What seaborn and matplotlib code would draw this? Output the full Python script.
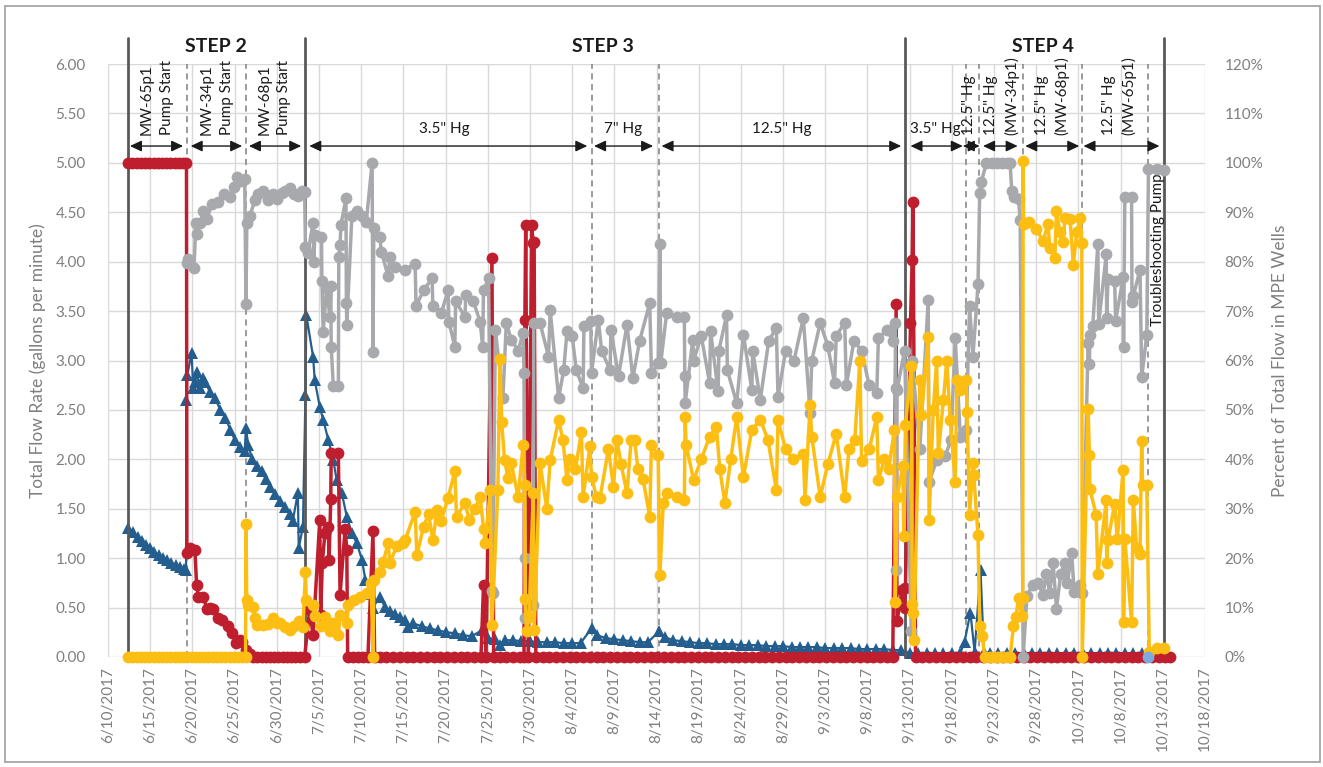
import matplotlib
matplotlib.use("Agg")
import numpy as np
import pandas as pd
import matplotlib.pyplot as plt
import matplotlib.dates as mdates
import seaborn as sns
from matplotlib.patches import Rectangle

# ---------------- DATA (days after 6/10/2017) ----------------
BASE = pd.Timestamp("2017-06-10")

# Total flow rate (gpm) - left axis
blue_days = [2.4, 3.0, 3.5, 4.0, 4.5, 5.0, 5.5, 6.0, 6.5, 7.0, 7.5, 8.0, 8.5, 9.0, 9.25,
             9.3, 9.4, 9.9, 10.1, 10.3, 10.5, 10.9, 11.2, 11.5, 12.1, 12.7, 13.3, 13.9, 14.5, 15.0,
             15.6, 16.2, 16.35, 16.6, 17.1, 17.7, 18.2, 18.7, 19.2, 19.8, 20.4, 21.0, 21.6, 21.9,
             22.5, 22.6, 23.1, 23.4, 23.5, 24.3, 24.5, 25.1, 25.5, 26.1, 26.7, 27.1, 27.7, 28.3,
             28.9, 29.5, 30.1, 30.5, 31.2, 31.4, 32.2, 32.8, 33.4, 34.0, 34.6, 35.2, 35.6, 36.2,
             37.2, 38.1, 39.1, 40.1, 41.1, 42.1, 43.1, 44.3, 45.0, 45.9, 46.4, 47.0, 48.0, 49.0,
             50.0, 51.0, 52.0, 53.0, 54.0, 55.0, 56.0, 57.3, 58.0, 59.0, 60.0, 61.0, 62.0, 63.0,
             64.0, 65.3, 66.0, 67.0, 68.0, 69.0, 70.0, 71.0, 72.0, 73.0, 74.0, 75.0, 76.0, 77.0,
             78.0, 79.0, 80.0, 81.0, 82.0, 83.0, 84.0, 85.0, 86.0, 87.0, 88.0, 89.0, 90.0, 91.0,
             92.0, 93.0, 94.0, 95.0, 96.0, 97.0, 98.0, 99.0, 100.0, 101.0, 101.5, 102.2, 102.7,
             103.4, 103.8, 104.5, 105.5, 106.5, 107.5, 108.5, 109.5, 110.5, 111.5, 112.5, 113.5,
             114.5, 115.5, 116.5, 117.5, 118.5, 119.5, 120.5, 121.5, 122.5, 123.5, 124.5, 125.2]
blue_vals = [1.31, 1.26, 1.21, 1.17, 1.13, 1.10, 1.06, 1.03, 1.00, 0.98, 0.95, 0.93, 0.91, 0.89, 0.88,
             2.60, 2.85, 3.08, 2.72, 2.78, 2.88, 2.72, 2.82, 2.78, 2.68, 2.62, 2.50, 2.42, 2.30, 2.20,
             2.12, 2.08, 2.32, 2.15, 2.00, 1.93, 1.88, 1.80, 1.72, 1.65, 1.58, 1.52, 1.45, 1.38,
             1.66, 1.10, 1.32, 2.65, 3.46, 3.04, 2.80, 2.53, 2.40, 2.20, 1.99, 1.79, 1.66, 1.42,
             1.25, 1.15, 0.98, 0.78, 0.64, 0.50, 0.61, 0.51, 0.47, 0.44, 0.40, 0.37, 0.30, 0.34,
             0.31, 0.29, 0.27, 0.25, 0.24, 0.22, 0.21, 0.27, 0.19, 0.18, 0.12, 0.17, 0.17, 0.16,
             0.16, 0.15, 0.15, 0.15, 0.14, 0.14, 0.14, 0.29, 0.22, 0.19, 0.18, 0.17, 0.16, 0.15,
             0.15, 0.26, 0.20, 0.17, 0.16, 0.15, 0.14, 0.14, 0.13, 0.13, 0.13, 0.12, 0.12, 0.12,
             0.11, 0.11, 0.11, 0.10, 0.10, 0.10, 0.10, 0.09, 0.09, 0.09, 0.09, 0.08, 0.08, 0.08,
             0.08, 0.07, 0.07, 0.04, 0.04, 0.04, 0.04, 0.04, 0.04, 0.04, 0.15, 0.45, 0.05,
             0.88, 0.05, 0.04, 0.04, 0.04, 0.04, 0.04, 0.04, 0.04, 0.04, 0.04, 0.04,
             0.04, 0.04, 0.04, 0.04, 0.04, 0.04, 0.04, 0.04, 0.04, 0.04, 0.04, 0.04]

# MW-65p1 share (%) - right axis
red_days = [2.4, 2.9, 3.4, 3.9, 4.4, 4.9, 5.4, 5.9, 6.4, 6.9, 7.4, 7.9, 8.4, 8.9, 9.3,
            9.35, 9.7, 10.3, 10.5, 10.7, 11.3, 11.7, 12.1, 12.4, 13.0, 13.5, 14.2, 14.7, 15.2,
            15.6, 15.9, 16.4, 16.8, 17.2, 17.7, 18.2, 18.7, 19.2, 19.7, 20.2, 20.7, 21.2, 21.7,
            22.2, 22.7, 23.3,
            23.9, 24.3, 25.1, 25.2, 25.4, 25.7, 26.1, 26.2, 26.4, 26.45, 27.3, 27.5, 28.1, 28.3,
            28.4, 29.0, 29.6, 30.2, 30.8, 31.4, 31.6, 32.2, 33.0, 33.8, 34.6, 35.4, 36.2, 37.0,
            37.8, 38.6, 39.4, 40.2, 41.0, 41.8, 42.6, 43.4, 44.2, 44.5, 44.8, 45.5, 45.7, 46.4,
            47.2, 48.0, 48.8, 49.3, 49.4, 49.5, 49.8, 50.2, 50.4, 50.5, 50.7,
            51.5, 52.3, 53.1, 53.9, 54.7, 55.5, 56.3, 57.1, 57.9, 58.7, 59.5, 60.3, 61.1, 61.9,
            62.7, 63.5, 64.3, 65.1, 65.9, 66.7, 67.5, 68.3, 69.1, 69.9, 70.7, 71.5, 72.3, 73.1,
            73.9, 74.7, 75.5, 76.3, 77.1, 77.9, 78.7, 79.5, 80.3, 81.1, 81.9, 82.7, 83.5, 84.3,
            85.1, 85.9, 86.7, 87.5, 88.3, 89.1, 89.9, 90.7, 91.5, 92.3, 93.0,
            93.4, 93.5, 94.1, 94.4, 94.5, 95.1, 95.3, 95.4, 95.7,
            96.5, 97.3, 98.1, 98.9, 99.7, 100.5, 101.3, 102.1, 102.9, 103.7, 104.5, 105.3, 106.1,
            106.9, 107.7, 108.5, 109.3, 110.1, 110.9, 111.7, 112.5, 113.3, 114.1, 114.9, 115.7,
            116.5, 117.3, 118.1, 118.9, 119.7, 120.5, 121.3, 122.1, 122.9, 123.7, 124.5, 125.3, 125.8]
red_vals = [100, 100, 100, 100, 100, 100, 100, 100, 100, 100, 100, 100, 100, 100, 100,
            21.0, 22.0, 21.6, 14.6, 12.2, 12.2, 9.8, 10.0, 9.8, 7.8, 7.4, 6.2, 4.8, 2.8,
            3.4, 3.0, 1.4, 0.6, 0, 0, 0, 0, 0, 0, 0, 0, 0, 0,
            0, 0, 0,
            9.6, 4.4, 27.8, 8.6, 19.0, 25.0, 26.4, 19.6, 32.0, 41.2, 41.2, 12.6, 26.0, 21.6,
            0, 0, 0, 0, 0, 25.4, 0, 0, 0, 0, 0, 0, 0, 0,
            0, 0, 0, 0, 0, 0, 0, 0, 0, 14.6, 0, 80.7, 0, 0,
            0, 0, 0, 0, 68.2, 87.4, 0, 87.4, 83.7, 84.0, 0,
            0, 0, 0, 0, 0, 0, 0, 0, 0, 0, 0, 0, 0, 0,
            0, 0, 0, 0, 0, 0, 0, 0, 0, 0, 0, 0, 0, 0,
            0, 0, 0, 0, 0, 0, 0, 0, 0, 0, 0, 0, 0, 0,
            0, 0, 0, 0, 0, 0, 0, 0, 0, 0, 0,
            71.5, 7.2, 13.6, 10.0, 14.0, 67.5, 80.4, 92.0, 0,
            0, 0, 0, 0, 0, 0, 0, 0, 0, 0, 0, 0, 0,
            0, 0, 0, 0, 0, 0, 0, 0, 0, 0, 0, 0,
            0, 0, 0, 0, 0, 0, 0, 0, 0, 0, 0, 0, 0]

# MW-34p1 share (%) - right axis
gray_days = [9.4, 9.5, 10.2, 10.4, 10.5, 10.9, 11.3, 11.7, 12.3, 13.0, 13.7, 14.5, 14.9, 15.3,
             15.8, 16.2, 16.35, 16.45, 16.8, 17.4, 17.8, 18.4, 19.0, 19.6, 20.0, 20.6, 21.0,
             21.6, 22.0, 22.5, 23.0, 23.3, 23.4, 23.7, 24.3, 24.4, 24.5, 25.3, 25.35, 25.5,
             25.9, 26.3, 26.4, 26.45, 26.7, 27.3, 27.35, 27.5, 27.6, 28.2, 28.25, 28.3, 28.9,
             29.5, 30.1, 30.6, 31.3, 31.4, 31.5, 32.2, 32.4, 33.2, 33.4, 34.0, 35.2, 36.4,
             36.5, 37.4, 38.4, 38.5, 39.5, 40.3, 40.4, 41.1, 41.2, 42.3, 42.4, 43.3, 44.1,
             44.4, 44.5, 45.1, 45.5, 45.6, 45.9, 46.8, 47.2, 47.8, 48.6, 49.2, 49.3, 49.4,
             49.45, 50.4, 50.45, 51.2, 52.2, 52.4, 53.4, 54.0, 54.4, 55.0, 55.5, 56.3, 56.4,
             57.2, 57.3, 58.1, 58.5, 59.5, 59.6, 60.5, 61.5, 62.2, 63.0, 64.2, 64.4, 65.2,
             65.4, 65.5, 66.2, 67.4, 68.3, 68.35, 68.4, 69.3, 69.4, 70.3, 71.3, 71.4, 72.3,
             72.4, 73.3, 73.4, 74.5, 75.3, 76.3, 76.4, 77.3, 78.3, 79.2, 79.4, 80.3, 81.3,
             82.4, 83.2, 83.4, 84.4, 85.3, 86.1, 86.3, 87.3, 87.5, 88.4, 89.3, 90.2, 91.1,
             91.3, 92.3, 93.0, 93.3, 93.35, 93.4, 93.5, 94.4, 95.2, 95.3, 96.2, 97.2, 97.3,
             98.2, 99.2, 99.9, 100.4, 101.0, 101.7, 102.1, 102.5, 103.1, 103.3, 103.5, 104.1,
             104.7, 105.3, 105.9, 106.5, 106.9, 107.1, 107.4, 107.9, 108.1, 108.45, 108.9,
             109.6, 110.2, 110.8, 111.2, 111.6, 112.0, 112.4, 112.9, 113.4, 113.7, 114.2,
             114.5, 115.2, 115.45, 116.15, 116.3, 116.35, 116.7, 117.3, 117.4, 118.3, 118.35,
             118.5, 119.3, 119.4, 120.3, 120.35, 120.5, 121.3, 121.35, 121.5, 122.3, 122.5,
             123.1, 123.3, 124.3, 125.2]
gray_vals = [79.8, 80.6, 78.8, 87.8, 85.6, 87.8, 90.2, 88.6, 91.6, 92.0, 93.6, 93.0, 95.2, 97.2,
             96.4, 96.8, 71.4, 87.8, 89.2, 92.4, 93.6, 94.2, 92.4, 93.6, 92.6, 93.8, 94.2,
             95.0, 93.6, 93.2, 94.2, 94.0, 83.0, 81.8, 87.8, 80.0, 85.4, 85.0, 76.0, 65.8,
             74.6, 68.8, 75.0, 62.8, 54.8, 54.8, 81.0, 83.4, 87.4, 92.8, 71.6, 67.2, 89.2,
             90.2, 89.2, 88.0, 100.0, 61.8, 86.8, 85.0, 82.0, 77.0, 81.0, 79.0, 78.4, 79.6,
             71.0, 74.2, 76.6, 71.0, 69.6, 74.2, 67.8, 62.8, 72.0, 68.8, 73.2, 72.0, 67.8,
             62.8, 74.2, 76.6, 13.4, 13.0, 66.2, 52.4, 67.6, 64.2, 62.0, 65.6, 57.4, 20.0,
             7.8, 10.6, 67.6, 67.6, 60.8, 70.2, 52.4, 58.0, 66.0, 65.0, 58.0, 54.4, 67.0,
             68.0, 57.4, 68.2, 62.0, 58.0, 66.2, 56.8, 67.2, 56.4, 64.0, 71.6, 57.4, 59.4,
             83.6, 59.4, 69.6, 68.8, 68.8, 56.8, 51.4, 64.2, 60.0, 65.0, 55.4, 66.0, 53.8,
             62.0, 69.2, 58.0, 51.4, 65.2, 54.0, 62.0, 52.0, 64.0, 66.6, 52.6, 62.0, 60.0,
             68.6, 49.4, 60.0, 67.6, 63.0, 55.4, 65.0, 67.6, 55.0, 64.0, 62.0, 55.0, 53.4,
             64.6, 66.2, 64.0, 67.6, 54.4, 17.6, 54.0, 62.0, 5.2, 60.0, 42.0, 72.2, 35.4,
             39.8, 40.6, 44.0, 64.6, 44.6, 46.0, 71.0, 60.8, 75.4, 93.8, 96.2, 100.0,
             100.0, 100.0, 100.0, 100.0, 100.0, 94.4, 93.0, 92.6, 88.4, 0.0, 12.4,
             14.6, 15.0, 12.6, 16.8, 13.0, 19.0, 9.8, 16.8, 19.0, 15.0, 21.0,
             13.2, 14.6, 13.0, 63.6, 59.2, 65.2, 67.0, 83.6, 67.4, 81.6, 68.6,
             76.4, 76.0, 68.0, 76.8, 62.8, 93.0, 93.0, 71.8, 73.0, 78.4, 56.6,
             65.2, 98.8, 98.8, 98.6]

# MW-68p1 share (%) - right axis
yellow_days = [2.4, 2.9, 3.4, 3.9, 4.4, 4.9, 5.4, 5.9, 6.4, 6.9, 7.4, 7.9, 8.4, 8.9, 9.4, 9.9,
               10.4, 10.9, 11.4, 11.9, 12.4, 12.9, 13.4, 13.9, 14.4, 14.9, 15.4, 15.9, 16.3,
               16.35, 16.45, 16.6, 17.2, 17.4, 17.7, 18.4, 19.0, 19.6, 20.0, 20.4, 21.0, 21.6,
               22.0, 22.6, 23.1, 23.4, 23.5, 24.3, 24.5, 25.3, 25.7, 26.3, 26.7, 27.3, 27.5,
               28.3, 28.5, 29.1, 29.9, 30.7, 31.2, 31.4, 31.5, 32.2, 32.6, 33.2, 33.4, 34.2,
               35.0, 35.2, 36.4, 36.6, 37.4, 38.0, 38.5, 39.0, 39.5, 40.3, 41.1, 41.3, 42.3,
               42.8, 43.5, 44.1, 44.5, 44.7, 45.3, 45.5, 46.2, 46.45, 46.65, 47.0, 47.4, 47.8,
               48.6, 49.2, 49.4, 49.45, 49.6, 49.9, 50.4, 50.5, 51.2, 52.0, 52.4, 53.4, 53.9,
               54.4, 54.7, 55.4, 56.1, 56.3, 57.1, 57.3, 57.9, 58.3, 59.3, 59.9, 60.3, 60.8,
               61.5, 62.0, 62.4, 62.8, 63.4, 64.2, 64.4, 65.2, 65.4, 65.8, 66.2, 67.4, 68.3,
               68.4, 68.5, 69.4, 70.3, 71.3, 72.1, 72.5, 73.1, 73.8, 74.5, 75.3, 76.3, 77.3,
               78.2, 79.2, 79.4, 80.3, 81.2, 82.4, 82.6, 83.2, 83.4, 84.4, 85.3, 86.3, 87.3,
               87.8, 88.5, 89.1, 89.3, 90.2, 91.1, 91.3, 92.0, 92.5, 93.2, 93.3, 93.5, 94.2,
               94.3, 94.5, 95.2, 95.3, 95.4, 95.5, 96.2, 96.4, 97.2, 97.3, 97.8, 98.2, 98.4,
               99.0, 99.4, 99.8, 100.4, 100.6, 101.0, 101.7, 101.8, 102.1, 102.5, 102.6, 103.1,
               103.3, 103.6, 103.9, 104.5, 105.0, 105.5, 106.0, 106.5, 106.9, 107.3, 107.6,
               107.9, 108.3, 108.4, 108.45, 108.5, 109.2, 110.0, 110.8, 111.4, 111.6, 112.2,
               112.4, 112.8, 113.2, 113.4, 114.0, 114.4, 114.8, 115.2, 115.4, 115.45, 116.15,
               116.3, 116.35, 117.1, 117.3, 118.3, 118.35, 118.5, 119.3, 119.6, 120.3, 120.35,
               120.5, 121.3, 121.5, 121.9, 122.3, 122.5, 122.6, 123.1, 123.4, 124.3, 125.2]
yellow_vals = [0, 0, 0, 0, 0, 0, 0, 0, 0, 0, 0, 0, 0, 0, 0, 0,
               0, 0, 0, 0, 0, 0, 0, 0, 0, 0, 0, 0, 0,
               27.0, 11.5, 10.6, 10.2, 7.8, 6.4, 6.4, 6.6, 7.8, 6.8, 6.8, 6.0, 5.4,
               6.2, 7.2, 6.0, 17.2, 11.6, 10.6, 8.2, 6.2, 8.0, 5.2, 6.8, 4.4, 8.6,
               6.8, 10.6, 11.6, 12.2, 13.0, 15.0, 0, 15.5, 17.2, 19.2, 23.0, 19.0, 22.4,
               23.0, 23.6, 29.4, 20.6, 26.4, 29.0, 23.6, 29.8, 27.6, 32.2, 37.6, 28.4, 31.2,
               27.8, 30.0, 32.4, 26.0, 23.0, 33.8, 6.4, 33.8, 60.4, 47.6, 39.8, 36.2, 39.2,
               32.4, 43.0, 34.8, 11.8, 5.2, 8.0, 33.2, 5.4, 39.2, 30.0, 39.8, 48.0, 44.0,
               35.8, 40.0, 38.0, 45.6, 32.4, 42.6, 36.4, 32.4, 32.2, 42.0, 34.4, 44.0, 39.0,
               33.2, 44.0, 44.0, 38.0, 36.0, 28.4, 43.0, 40.8, 16.6, 31.2, 33.2, 32.4, 31.8,
               48.6, 43.0, 35.8, 40.0, 44.6, 46.6, 38.0, 31.2, 40.0, 48.6, 36.4, 46.0, 48.0,
               44.0, 33.8, 48.0, 42.0, 40.0, 41.0, 31.8, 51.0, 44.6, 32.4, 39.0, 45.2, 32.4,
               42.0, 44.0, 60.0, 39.6, 42.0, 48.6, 35.8, 40.0, 38.0, 46.0, 11.2, 32.4, 38.6,
               24.4, 47.0, 58.8, 10.8, 9.0, 3.4, 56.0, 49.0, 64.8, 27.8, 50.0, 60.0, 41.2,
               52.0, 60.0, 48.0, 35.4, 56.0, 54.0, 56.0, 49.6, 28.8, 39.2, 36.8, 24.6,
               6.2, 4.2, 0, 0, 0, 0, 0, 0, 0, 6.2, 8.0,
               12.0, 8.2, 12.0, 100.4, 87.7, 88.0, 86.6, 84.2, 87.6, 82.8, 80.8,
               90.2, 86.0, 84.0, 88.8, 88.6, 79.4, 86.0, 88.8, 83.8, 0, 50.2,
               40.8, 34.0, 28.8, 16.8, 31.8, 19.0, 23.6, 31.0, 23.8, 37.8, 7.0,
               23.8, 7.0, 31.8, 22.0, 20.8, 43.8, 34.8, 34.8, 1.0, 1.8, 1.8]

# extra single point (light blue)
lblue_days = [123.3]
lblue_vals = [0.0]

# Annotation content
step_labels = ["STEP 2", "STEP 3", "STEP 4"]
step_label_days = [12.8, 58.6, 110.8]
solid_line_days = [2.33, 23.4, 94.5, 125.2]
dashed_line_days = [9.36, 16.35, 57.3, 65.3, 101.7, 103.2, 108.4, 115.4, 123.3]
arrow_spans = [(2.6, 8.9), (9.8, 15.9), (16.7, 22.9), (23.85, 56.8), (57.6, 64.6),
               (65.6, 94.0), (95.1, 101.3), (101.3, 103.3), (103.7, 107.8),
               (108.7, 115.1), (115.6, 124.6)]
horiz_labels = ['3.5" Hg', '7" Hg', '12.5" Hg', '3.5" Hg']
horiz_label_days = [39.9, 61.0, 79.8, 98.0]
vert_labels = ["MW-65p1", "Pump Start", "MW-34p1", "Pump Start", "MW-68p1", "Pump Start",
               '12.5" Hg', '12.5" Hg', "(MW-34p1)", '12.5" Hg', "(MW-68p1)",
               '12.5" Hg', "(MW-65p1)"]
vert_label_days = [4.58, 6.95, 11.69, 14.06, 18.60, 20.85,
                   102.0, 104.6, 107.07, 110.66, 113.0, 118.6, 120.97]

# ---------------- STYLE ----------------
sns.set_style("white")
plt.rcParams["font.family"] = ["Lato", "DejaVu Sans"]

GRAY_TXT = "#7F7F7F"
C_BLUE = "#245E8F"
C_RED = "#BE1E2D"
C_GRAY = "#A7A9AC"
C_YEL = "#FDBE14"
C_LBLUE = "#7DAADF"

fig = plt.figure(figsize=(13.23, 7.67), dpi=100)
ax = fig.add_axes([108 / 1323, 1 - 657 / 767, (1205 - 108) / 1323, (657 - 64) / 767])
ax2 = ax.twinx()


def to_dates(days):
    return BASE + pd.to_timedelta(np.asarray(days, dtype=float), unit="D")


def dn(d):
    return mdates.date2num(BASE + pd.Timedelta(days=d))


def draw(axis, days, vals, color, marker, ms, lw, z):
    df = pd.DataFrame({"date": to_dates(days), "v": vals})
    sns.lineplot(data=df, x="date", y="v", ax=axis, color=color, marker=marker,
                 markersize=ms, linewidth=lw, markeredgewidth=0, estimator=None,
                 sort=False, legend=False)
    ln = axis.lines[-1]
    ln.set_clip_on(False)
    ln.set_zorder(z)
    ln.set_markeredgecolor(color)


draw(ax, blue_days, blue_vals, C_BLUE, "^", 8.5, 1.6, 3)
draw(ax2, red_days, red_vals, C_RED, "o", 8.5, 2.5, 3)
draw(ax2, gray_days, gray_vals, C_GRAY, "o", 8.5, 2.5, 4)
draw(ax2, yellow_days, yellow_vals, C_YEL, "o", 8.5, 2.5, 5)
draw(ax2, lblue_days, lblue_vals, C_LBLUE, "o", 8.5, 2.5, 6)

# axes limits & ticks
x0 = BASE
x1 = BASE + pd.Timedelta(days=130)
ax.set_xlim(x0, x1)
ax.set_ylim(0, 6)
ax2.set_ylim(0, 120)
xt = [BASE + pd.Timedelta(days=5 * k) for k in range(27)]
ax.set_xticks(xt)
ax.set_xticklabels([f"{t.month}/{t.day}/{t.year}" for t in xt], rotation=90,
                   color=GRAY_TXT, fontsize=11)
ax.set_yticks(np.arange(0, 6.01, 0.5))
ax.set_yticklabels([f"{v:.2f}" for v in np.arange(0, 6.01, 0.5)], color=GRAY_TXT, fontsize=11)
ax2.set_yticks(np.arange(0, 121, 10))
ax2.set_yticklabels([f"{v:d}%" for v in range(0, 121, 10)], color=GRAY_TXT, fontsize=11)
ax.tick_params(axis="both", length=0)
ax.tick_params(axis="y", pad=16)
ax.tick_params(axis="x", pad=7)
ax2.tick_params(axis="y", length=0, pad=14)

ax.grid(True, color="#D9D9D9", linewidth=1.0)
ax.set_axisbelow(True)
ax2.grid(False)
for a in (ax, ax2):
    for s in a.spines.values():
        s.set_visible(False)

ax.set_xlabel("")
ax.set_ylabel("Total Flow Rate (gallons per minute)", color=GRAY_TXT, fontsize=12.5)
ax.yaxis.set_label_coords(-0.0565, 0.5)
ax2.set_ylabel("Percent of Total Flow in MPE Wells", color=GRAY_TXT, fontsize=12.5)
ax2.yaxis.set_label_coords(1.061, 0.5)

# vertical separator lines
for d in solid_line_days:
    ax.axvline(dn(d), ymin=0, ymax=1.044, color="#595959", lw=2.0, clip_on=False, zorder=7)
for d in dashed_line_days:
    ax.axvline(dn(d), ymin=0, ymax=1.0, color="#7F7F7F", lw=1.1, ls=(0, (4, 3)),
               clip_on=False, zorder=2)

TXT = "#1A1A1A"
trans = ax.get_xaxis_transform()
for lab, d in zip(step_labels, step_label_days):
    ax.text(dn(d), 1.029, lab, transform=trans, ha="center", va="center",
            fontsize=14, fontweight="bold", color=TXT)

for a, b in arrow_spans:
    ax.annotate("", xy=(dn(b), 5.17), xytext=(dn(a), 5.17),
                arrowprops=dict(arrowstyle="<|-|>,head_length=0.7,head_width=0.33",
                                color=TXT, lw=1.0, shrinkA=0, shrinkB=0,
                                mutation_scale=10), zorder=8)

for lab, d in zip(horiz_labels, horiz_label_days):
    ax.text(dn(d), 5.34, lab, ha="center", va="center", fontsize=11, color=TXT, zorder=8)

for lab, d in zip(vert_labels, vert_label_days):
    ax.text(dn(d), 5.28, lab, rotation=90, ha="center", va="bottom",
            fontsize=11, color=TXT, zorder=8)

ax.text(dn(124.4), 4.12, "Troubleshooting Pump", rotation=90, ha="center", va="center",
        fontsize=11, color=TXT, zorder=8)

# outer border
fig.patches.append(Rectangle((0.0038, 0.0065), 0.9939, 0.9857, transform=fig.transFigure,
                             fill=False, edgecolor="#A6A6A6", lw=1.3))

fig.savefig("out.png", dpi=100)
